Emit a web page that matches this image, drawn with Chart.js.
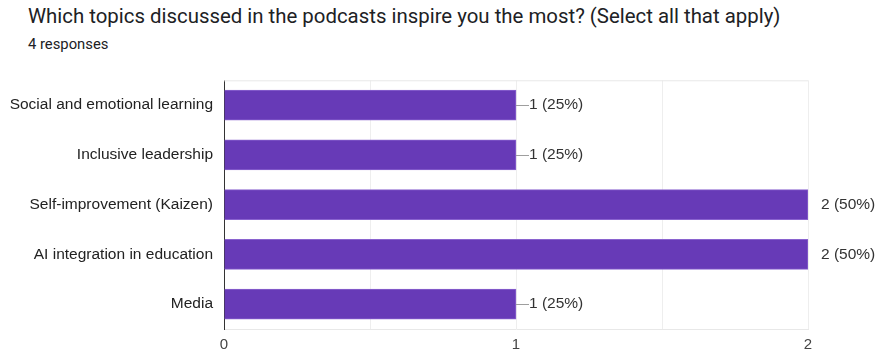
<!DOCTYPE html>
<html>
<head>
<meta charset="utf-8">
<script src="https://cdn.jsdelivr.net/npm/chart.js@4/dist/chart.umd.min.js"></script>
<style>
  html, body { margin: 0; padding: 0; background: #fff; }
  body { width: 877px; height: 354px; position: relative; overflow: hidden; font-family: Roboto, Arial, sans-serif; }
  #title { position: absolute; left: 28px; top: 4px; font-size: 20.4px; color: #202124; white-space: nowrap; }
  #sub { position: absolute; left: 28px; top: 35px; font-size: 14.8px; color: #202124; }
  #wrap { position: absolute; left: 0; top: 60px; width: 877px; height: 294px; }
</style>
</head>
<body>
<div id="title">Which topics discussed in the podcasts inspire you the most? (Select all that apply)</div>
<div id="sub">4 responses</div>
<div id="wrap"><canvas id="topicsChart"></canvas></div>
<script>
// ==========================================
// بيانات الاستبيان
// ==========================================

const topics = [
    "Social and emotional learning",
    "Inclusive leadership",
    "Self-improvement (Kaizen)",
    "AI integration in education",
    "Media"
];

const votes = [1, 1, 2, 2, 1];

const totalResponses = 4;

const axisTicks = [0, 1, 2];

const labelFont = "'Liberation Sans', Arial, sans-serif";

// labels "n (xx%)" next to each bar
const valueLabels = {
    id: "valueLabels",
    afterDatasetsDraw(chart){
        const c = chart.ctx;
        const area = chart.chartArea;
        const xs = chart.scales.x;
        const meta = chart.getDatasetMeta(0);

        c.save();
        // top edge of the plot box
        c.strokeStyle = "#e8e8e8";
        c.lineWidth = 1;
        c.beginPath();
        c.moveTo(area.left, area.top + 0.5);
        c.lineTo(area.right, area.top + 0.5);
        c.stroke();

        c.font = "15.5px " + labelFont;
        c.fillStyle = "#333";
        c.textBaseline = "middle";
        meta.data.forEach((bar, i) => {
            const v = votes[i];
            const pct = Math.round(v / totalResponses * 100);
            const x = bar.x;
            const y = bar.y;
            if (v < xs.max) {
                c.strokeStyle = "#9e9e9e";
                c.beginPath();
                c.moveTo(x, Math.round(y) + 0.5);
                c.lineTo(x + 13, Math.round(y) + 0.5);
                c.stroke();
            }
            c.fillText(v + " (" + pct + "%)", x + 13, y);
        });
        c.restore();
    }
};

const ctx = document
    .getElementById("topicsChart")
    .getContext("2d");

new Chart(ctx, {

    type: "bar",

    data: {
        labels: topics,
        datasets: [{
            data: votes,
            backgroundColor: "#673ab7",
            borderColor: "#8a63cf",
            borderWidth: 1,
            barThickness: 30
        }]
    },

    options: {
        indexAxis: "y",
        responsive: true,
        maintainAspectRatio: false,
        animation: false,
        layout: {
            padding: { top: 17, right: 69, left: 0, bottom: 0 }
        },
        plugins: {
            legend: { display: false },
            tooltip: { enabled: false }
        },
        scales: {
            x: {
                min: 0,
                max: 2,
                afterBuildTicks(scale){
                    scale.ticks = [0, 0.5, 1, 1.5, 2].map(v => ({ value: v }));
                },
                afterFit(scale){
                    scale.height = 25;
                },
                grid: {
                    color: "#eeeeee",
                    drawTicks: false
                },
                border: { color: "#e8e8e8" },
                ticks: {
                    padding: 7,
                    color: "#444",
                    font: { family: labelFont, size: 15 },
                    callback: v => axisTicks.includes(v) ? String(v) : ""
                }
            },
            y: {
                afterFit(scale){
                    scale.width = 224;
                },
                grid: { display: false, drawTicks: false },
                border: { color: "#333", width: 1 },
                ticks: {
                    padding: 11,
                    color: "#222",
                    font: { family: labelFont, size: 15.5 }
                }
            }
        }
    },

    plugins: [valueLabels]

});
</script>
</body>
</html>
